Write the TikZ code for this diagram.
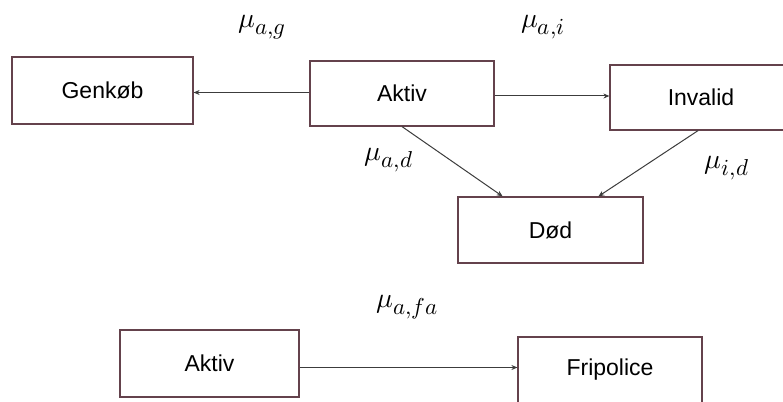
\documentclass[tikz,border=0pt]{standalone}
\usepackage{fontspec}
\usepackage{unicode-math}
\setmainfont{Liberation Sans}
\setmathfont{Latin Modern Math}
\DeclareMathSizes{28}{28}{23}{18}
\usetikzlibrary{arrows.meta,calc}
\definecolor{boxedge}{RGB}{100,66,76}
\definecolor{arrowcol}{RGB}{60,60,60}
\tikzset{
  statebox/.style={draw=boxedge, line width=1.2pt, fill=white, inner sep=0pt,
    font=\fontsize{23}{27}\selectfont},
  trans/.style={draw=arrowcol, line width=1pt, -{Stealth[length=6pt,width=5pt]}},
  ratelabel/.style={font=\fontsize{28}{32}\selectfont, inner sep=0pt}
}
\begin{document}
\begin{tikzpicture}[x=1pt,y=-1pt]
\clip (0,0) rectangle (783,401);
\node[statebox, minimum width=181pt, minimum height=67pt] (genkob) at (102.5,90.5) {Genkøb};
\node[statebox, minimum width=184pt, minimum height=65pt] (aktiv) at (402,93.5) {Aktiv};
\node[statebox, minimum width=182pt, minimum height=65pt] (invalid) at (701,97.5) {Invalid};
\node[statebox, minimum width=185pt, minimum height=66pt] (dod) at (550.5,230) {Død};
\node[statebox, minimum width=179pt, minimum height=67pt] (aktivb) at (209.5,363.5) {Aktiv};
\node[statebox, minimum width=184pt, minimum height=66pt] (fripol) at (610,370) {Fripolice};

\coordinate (al) at ($(aktiv.west)+(0,-1)$);
\coordinate (ar) at ($(aktiv.east)+(0,2.5)$);
\coordinate (br) at ($(aktivb.east)+(0,4)$);
\draw[trans] (al) -- (genkob.east |- al);
\draw[trans] (ar) -- (invalid.west |- ar);
\draw[trans] (aktiv.south) -- ($(dod.north west)!0.243!(dod.north east)$);
\draw[trans] ($(invalid.south west)!0.484!(invalid.south east)$) -- ($(dod.north west)!0.757!(dod.north east)$);
\draw[trans] (br) -- (fripol.west |- br);

\node[ratelabel] (lag) at (262,27) {$\mu_{a,g}$};
\node[ratelabel] (lai) at (543,27) {$\mu_{a,i}$};
\node[ratelabel] (lad) at (389,160) {$\mu_{a,d}$};
\node[ratelabel] (lid) at (727,168) {$\mu_{i,d}$};
\node[ratelabel] (lafa) at (407,307) {$\mu_{a,fa}$};
\end{tikzpicture}
\end{document}
